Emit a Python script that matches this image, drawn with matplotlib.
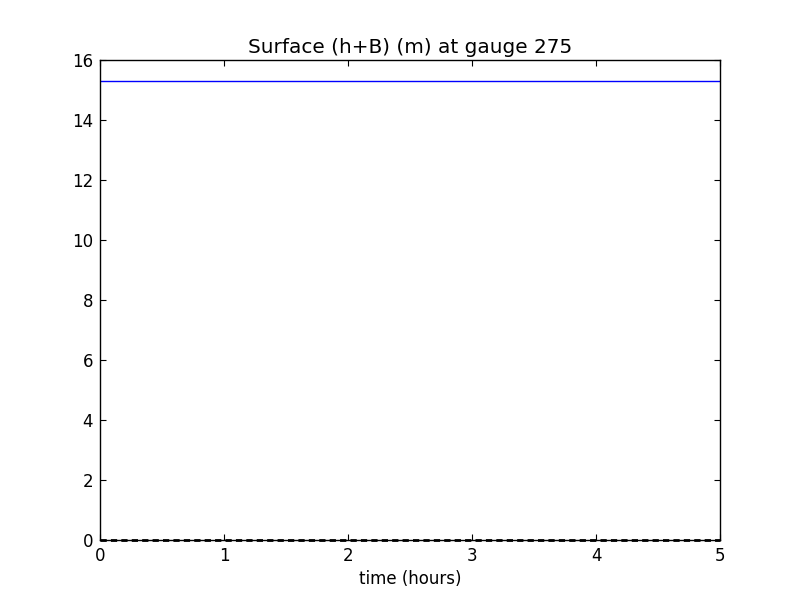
import matplotlib
matplotlib.use('Agg')
import matplotlib.pyplot as plt

# gauge 275 surface, flat over the run
time_hours = [0.0, 1.0, 2.0, 3.0, 4.0, 5.0]
surface = [15.3, 15.3, 15.3, 15.3, 15.3, 15.3]
zero_level = [0.0, 0.0, 0.0, 0.0, 0.0, 0.0]

plt.rcParams['xtick.direction'] = 'in'
plt.rcParams['ytick.direction'] = 'in'
plt.rcParams['xtick.top'] = True
plt.rcParams['ytick.right'] = True
plt.rcParams['font.size'] = 12
plt.rcParams['lines.scale_dashes'] = False

fig, ax = plt.subplots(figsize=(8, 6), dpi=100)
fig.subplots_adjust(left=0.125, right=0.9, bottom=0.1, top=0.9)

ax.plot(time_hours, surface, color='blue', linewidth=1.0)
ax.plot(time_hours, zero_level, color='k', linestyle='--', dashes=(4.5, 3),
        linewidth=2.0, clip_on=False, zorder=5)

ax.set_xlim(0, 5)
ax.set_ylim(0, 16)
ax.set_xticks([0, 1, 2, 3, 4, 5])
ax.set_yticks(range(0, 17, 2))
ax.tick_params(length=4, width=0.8, pad=5)
for s in ax.spines.values():
    s.set_linewidth(1.0)

ax.set_title('Surface (h+B) (m) at gauge 275', fontsize=14.4, pad=5)
ax.set_xlabel('time (hours)')

fig.savefig('out.png', dpi=100)
